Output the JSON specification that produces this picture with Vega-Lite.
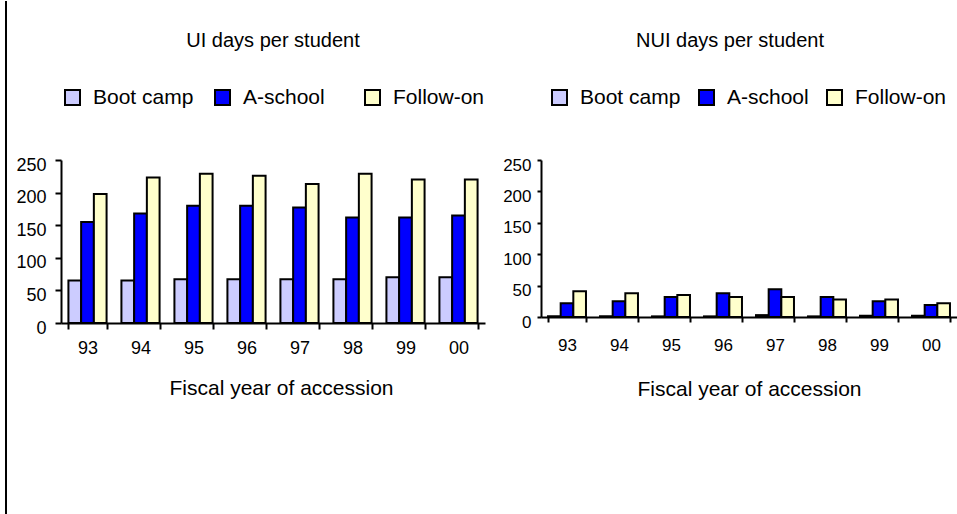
{
  "$schema": "https://vega.github.io/schema/vega-lite/v6.json",
  "padding": {"left": 5, "top": 0, "right": 0, "bottom": 0},
  "background": "white",
  "config": {
    "view": {"stroke": null},
    "font": "Liberation Sans",
    "axis": {"labelColor": "black", "titleColor": "black", "domainColor": "black", "tickColor": "black", "grid": false, "labelFont": "Liberation Sans", "titleFont": "Liberation Sans", "titleFontWeight": "normal"},
    "legend": {"labelFont": "Liberation Sans", "labelColor": "black"},
    "title": {"font": "Liberation Sans", "fontWeight": "normal", "color": "black"}
  },
  "datasets": {
    "ui": [
      {"year": "93", "phase": "Boot camp", "days": 65}, {"year": "93", "phase": "A-school", "days": 155}, {"year": "93", "phase": "Follow-on", "days": 198},
      {"year": "94", "phase": "Boot camp", "days": 65}, {"year": "94", "phase": "A-school", "days": 168}, {"year": "94", "phase": "Follow-on", "days": 223},
      {"year": "95", "phase": "Boot camp", "days": 67}, {"year": "95", "phase": "A-school", "days": 180}, {"year": "95", "phase": "Follow-on", "days": 229},
      {"year": "96", "phase": "Boot camp", "days": 67}, {"year": "96", "phase": "A-school", "days": 180}, {"year": "96", "phase": "Follow-on", "days": 226},
      {"year": "97", "phase": "Boot camp", "days": 67}, {"year": "97", "phase": "A-school", "days": 177}, {"year": "97", "phase": "Follow-on", "days": 213},
      {"year": "98", "phase": "Boot camp", "days": 67}, {"year": "98", "phase": "A-school", "days": 162}, {"year": "98", "phase": "Follow-on", "days": 229},
      {"year": "99", "phase": "Boot camp", "days": 70}, {"year": "99", "phase": "A-school", "days": 162}, {"year": "99", "phase": "Follow-on", "days": 220},
      {"year": "00", "phase": "Boot camp", "days": 70}, {"year": "00", "phase": "A-school", "days": 165}, {"year": "00", "phase": "Follow-on", "days": 220}
    ],
    "nui": [
      {"year": "93", "phase": "Boot camp", "days": 1}, {"year": "93", "phase": "A-school", "days": 22}, {"year": "93", "phase": "Follow-on", "days": 41},
      {"year": "94", "phase": "Boot camp", "days": 1}, {"year": "94", "phase": "A-school", "days": 25}, {"year": "94", "phase": "Follow-on", "days": 38},
      {"year": "95", "phase": "Boot camp", "days": 1}, {"year": "95", "phase": "A-school", "days": 32}, {"year": "95", "phase": "Follow-on", "days": 35},
      {"year": "96", "phase": "Boot camp", "days": 1}, {"year": "96", "phase": "A-school", "days": 38}, {"year": "96", "phase": "Follow-on", "days": 32},
      {"year": "97", "phase": "Boot camp", "days": 3}, {"year": "97", "phase": "A-school", "days": 44}, {"year": "97", "phase": "Follow-on", "days": 32},
      {"year": "98", "phase": "Boot camp", "days": 1}, {"year": "98", "phase": "A-school", "days": 32}, {"year": "98", "phase": "Follow-on", "days": 28},
      {"year": "99", "phase": "Boot camp", "days": 2}, {"year": "99", "phase": "A-school", "days": 25}, {"year": "99", "phase": "Follow-on", "days": 28},
      {"year": "00", "phase": "Boot camp", "days": 2}, {"year": "00", "phase": "A-school", "days": 19}, {"year": "00", "phase": "Follow-on", "days": 22}
    ]
  },
  "spacing": 8,
  "hconcat": [
    {
      "width": 1,
      "height": 355,
      "data": {"values": [{}]},
      "mark": {"type": "rule", "color": "black", "strokeWidth": 2},
      "encoding": {
        "x": {"datum": 0, "type": "quantitative", "scale": {"domain": [0, 1]}, "axis": null},
        "y": {"datum": 0, "type": "quantitative", "scale": {"domain": [0, 1], "range": [-159, 400]}, "axis": null},
        "y2": {"datum": 1}
      }
    },
    {
      "spacing": 17,
      "resolve": {"scale": {"color": "independent", "x": "independent", "y": "independent", "xOffset": "independent"}, "legend": {"color": "independent"}},
      "hconcat": [
        {
          "width": 424,
          "height": 163,
          "title": {"text": "UI days per student", "fontSize": 20, "frame": "group", "anchor": "middle", "offset": 36},
          "data": {"name": "ui"},
          "mark": {"type": "bar", "stroke": "black", "strokeWidth": 2},
          "encoding": {
            "x": {"field": "year", "type": "nominal", "sort": null,
                  "scale": {"paddingInner": 0.28, "paddingOuter": 0.14},
                  "axis": {"title": "Fiscal year of accession", "titleFontSize": 21, "titlePadding": 20, "titleX": 220, "labelAngle": 0, "labelFontSize": 18, "labelPadding": 10, "tickBand": "extent", "tickSize": 6, "tickWidth": 2, "domainWidth": 2}},
            "xOffset": {"field": "phase", "sort": ["Boot camp", "A-school", "Follow-on"], "scale": {"paddingInner": 0, "paddingOuter": 0}},
            "y": {"field": "days", "type": "quantitative", "scale": {"domain": [0, 250]},
                  "axis": {"title": null, "values": [0, 50, 100, 150, 200, 250], "labelFontSize": 18, "labelPadding": 9, "labelOffset": 5, "tickSize": 6, "tickWidth": 2, "domainWidth": 2}},
            "color": {"field": "phase", "type": "nominal",
                      "scale": {"domain": ["Boot camp", "A-school", "Follow-on"], "range": ["#CCCCFF", "#0000FF", "#FFFFCC"]},
                      "legend": {"title": null, "orient": "none", "legendX": 1, "legendY": -73, "direction": "horizontal", "gridAlign": "all", "columnPadding": 17, "labelOffset": 10, "labelFontSize": 21, "symbolType": "square", "symbolSize": 225, "symbolStrokeColor": "black", "symbolStrokeWidth": 2, "symbolOpacity": 1}}
          }
        },
        {
          "width": 416,
          "height": 157,
          "title": {"text": "NUI days per student", "fontSize": 20, "frame": "group", "anchor": "middle", "offset": 36, "dx": -19},
          "data": {"name": "nui"},
          "mark": {"type": "bar", "stroke": "black", "strokeWidth": 2},
          "encoding": {
            "x": {"field": "year", "type": "nominal", "sort": null,
                  "scale": {"paddingInner": 0.27, "paddingOuter": 0.135},
                  "axis": {"title": "Fiscal year of accession", "titleFontSize": 21, "titlePadding": 25, "labelAngle": 0, "labelFontSize": 17, "labelPadding": 15, "tickBand": "extent", "tickSize": 5, "tickWidth": 2, "domainWidth": 2}},
            "xOffset": {"field": "phase", "sort": ["Boot camp", "A-school", "Follow-on"], "scale": {"paddingInner": 0, "paddingOuter": 0}},
            "y": {"field": "days", "type": "quantitative", "scale": {"domain": [0, 250]},
                  "axis": {"title": null, "values": [0, 50, 100, 150, 200, 250], "labelFontSize": 17, "labelPadding": 6, "labelOffset": 5, "tickSize": 4, "tickWidth": 2, "domainWidth": 2}},
            "color": {"field": "phase", "type": "nominal",
                      "scale": {"domain": ["Boot camp", "A-school", "Follow-on"], "range": ["#CCCCFF", "#0000FF", "#FFFFCC"]},
                      "legend": {"title": null, "orient": "none", "legendX": 8, "legendY": -73, "direction": "horizontal", "gridAlign": "each", "columnPadding": 14, "labelOffset": 10, "labelFontSize": 21, "symbolType": "square", "symbolSize": 225, "symbolStrokeColor": "black", "symbolStrokeWidth": 2, "symbolOpacity": 1}}
          }
        }
      ]
    }
  ]
}
